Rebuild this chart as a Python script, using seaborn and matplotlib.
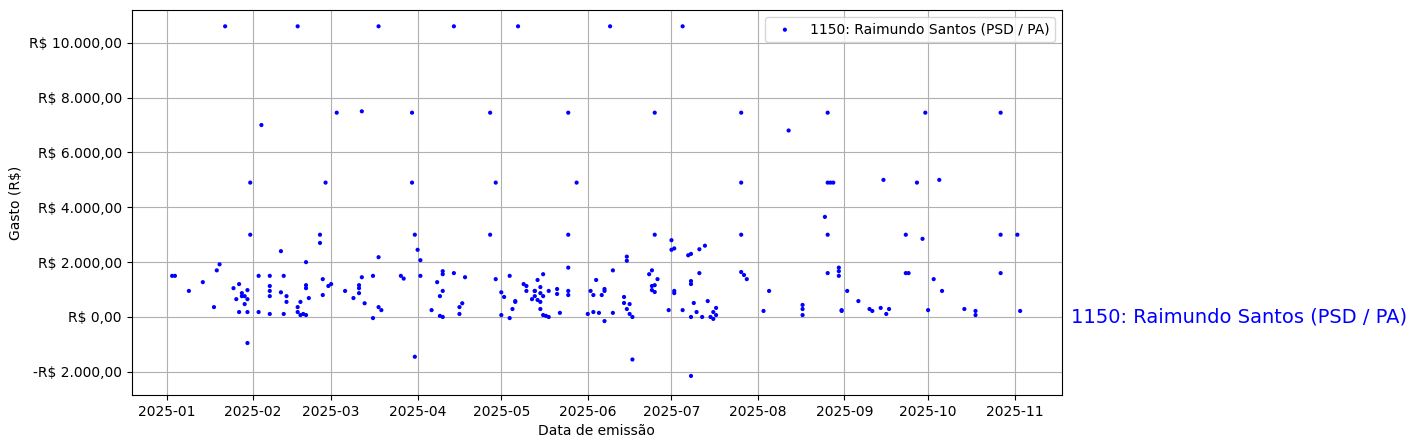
import matplotlib
matplotlib.use("Agg")
import matplotlib.pyplot as plt
import matplotlib.ticker as mticker
import matplotlib.transforms as mtrans
import matplotlib.dates as mdates
import seaborn as sns
import pandas as pd

label = "1150: Raimundo Santos (PSD / PA)"

days = [2,3,8,13,17,18,19,21,24,25,26,26,27,27,28,28,29,29,29,29,30,30,
33,33,34,37,37,37,37,37,41,41,42,42,43,43,47,47,47,48,48,49,50,50,50,50,51,
55,55,56,56,57,58,59,61,64,67,69,69,69,70,70,71,74,74,76,76,76,77,
84,85,88,88,89,89,90,91,91,95,97,98,98,99,99,99,99,103,103,105,105,106,107,
116,116,118,118,120,120,121,123,123,124,125,125,126,128,129,129,
131,132,132,132,133,133,134,134,134,134,135,135,135,136,137,137,
140,140,141,144,144,144,144,144,147,
151,152,153,153,154,155,156,157,157,157,159,160,160,164,164,165,165,165,166,166,167,167,
173,174,174,174,175,175,175,175,176,
180,181,181,182,182,182,185,185,187,188,188,188,188,188,189,190,191,191,192,193,194,195,196,196,197,197,
206,206,206,206,207,208,214,216,223,228,228,228,
236,237,237,237,237,238,239,241,241,241,242,242,244,
248,252,253,256,257,258,259,265,265,266,269,271,272,273,275,277,278,
286,290,290,299,299,299,305,306]

values = [1500,1500,950,1270,360,1700,1920,10600,1050,650,1200,180,760,870,470,760,180,650,980,-950,4900,3000,
180,1500,7000,760,1130,1500,110,950,2400,900,110,1500,760,550,10600,360,180,550,70,110,70,1160,1050,2000,690,
3000,2700,1380,800,4900,1130,1200,7450,950,690,870,1050,1160,7500,1450,500,1500,-40,10600,2180,360,250,
1500,1400,7450,4900,3000,-1450,2450,2070,1500,250,1270,40,760,1670,0,950,1560,10600,1600,110,360,500,1450,
7450,3000,4900,1380,70,900,730,1500,-40,290,580,550,10600,1200,950,1130,
650,950,760,950,620,1350,1090,870,290,550,760,1560,70,40,0,950,
1020,840,150,7450,3000,1800,950,800,4900,
110,950,180,800,1350,150,800,1020,-150,950,10600,150,1700,730,510,2050,2200,290,470,110,0,-1550,
1560,1700,1130,980,1160,910,7450,3000,1380,
250,2800,2450,2500,950,870,10600,250,2250,2300,-2150,0,1310,1200,510,180,1600,2470,0,2600,580,0,-70,180,330,70,
7450,4900,3000,1640,1530,1380,220,950,6800,290,440,70,
3650,3000,7450,1600,4900,4900,4900,1670,1800,1500,250,220,950,
580,290,220,330,5000,110,290,3000,1600,1600,4900,2850,7450,250,1380,5000,950,
290,220,70,3000,7450,1600,3000,220]

df = pd.DataFrame({"date": pd.Timestamp("2025-01-01") + pd.to_timedelta(days, unit="D"),
                   "value": values})

fig, ax = plt.subplots(figsize=(14.16, 4.48), dpi=100)
fig.subplots_adjust(left=0.093, right=0.75, top=0.978, bottom=0.118)
sns.scatterplot(data=df, x="date", y="value", ax=ax, color="blue", s=9,
                edgecolor="none", label=label, zorder=3)

def fmt(v, pos):
    s = f"{abs(v):,.2f}".replace(",", "X").replace(".", ",").replace("X", ".")
    return ("-R$ " if v < 0 else "R$ ") + s
ax.yaxis.set_major_formatter(mticker.FuncFormatter(fmt))
ax.yaxis.set_major_locator(mticker.MultipleLocator(2000))
ax.xaxis.set_major_locator(mdates.MonthLocator())
ax.xaxis.set_major_formatter(mdates.DateFormatter("%Y-%m"))
ax.set_xlim(pd.Timestamp("2024-12-19 12:00"), pd.Timestamp("2025-11-18 00:00"))
ax.set_ylim(-2850, 11200)
ax.grid(True, zorder=0)
ax.set_axisbelow(True)
ax.set_xlabel("Data de emissão")
ax.set_ylabel("Gasto (R$)")
ax.legend(loc="upper right")
tr = mtrans.blended_transform_factory(ax.transAxes, ax.transData)
ax.text(1.01, 0, label, transform=tr, color="blue", fontsize=14, va="center", ha="left")
fig.savefig("out.png", dpi=100)
